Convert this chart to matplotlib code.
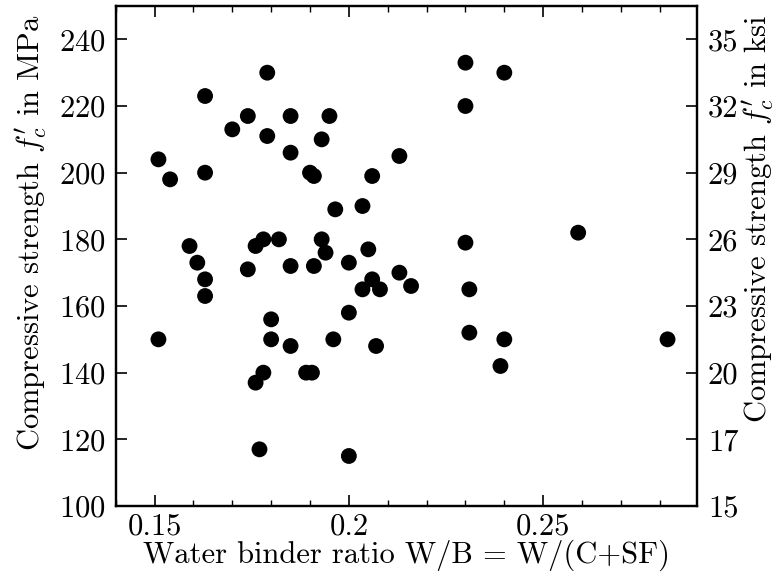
import matplotlib
matplotlib.use("Agg")
import matplotlib.pyplot as plt
from matplotlib.ticker import MultipleLocator, FixedLocator

plt.rcParams['font.family'] = ['cmr10', 'DejaVu Serif']
plt.rcParams['mathtext.fontset'] = 'cm'
plt.rcParams['axes.formatter.use_mathtext'] = True

wb_ratio = [0.151, 0.154, 0.163, 0.163, 0.170, 0.174, 0.179, 0.179, 0.185, 0.185,
            0.195, 0.193, 0.190, 0.191, 0.1965, 0.2035, 0.206, 0.213, 0.159, 0.161,
            0.163, 0.163, 0.176, 0.178, 0.182, 0.174, 0.185, 0.191, 0.193, 0.194,
            0.200, 0.205, 0.2035, 0.206, 0.208, 0.213, 0.216, 0.230, 0.240, 0.230,
            0.259, 0.230, 0.231, 0.231, 0.240, 0.239, 0.282, 0.207, 0.151, 0.180,
            0.180, 0.185, 0.176, 0.178, 0.189, 0.1905, 0.196, 0.200, 0.177, 0.200]
fc_mpa = [204, 198, 223, 200, 213, 217, 230, 211, 217, 206,
          217, 210, 200, 199, 189, 190, 199, 205, 178, 173,
          168, 163, 178, 180, 180, 171, 172, 172, 180, 176,
          173, 177, 165, 168, 165, 170, 166, 233, 230, 220,
          182, 179, 165, 152, 150, 142, 150, 148, 150, 156,
          150, 148, 137, 140, 140, 140, 150, 158, 117, 115]

mpa_ticks = [100, 120, 140, 160, 180, 200, 220, 240]
ksi_labels = ['15', '17', '20', '23', '26', '29', '32', '35']
x_ticks = [0.15, 0.2, 0.25]
x_ticklabels = ['0.15', '0.2', '0.25']

FS = 22

fig = plt.figure(figsize=(7.78, 5.74), dpi=100)
ax = fig.add_axes([0.1487, 0.1185, 0.8955 - 0.1487, 0.9895 - 0.1185])
ax.scatter(wb_ratio, fc_mpa, s=130, color='black', edgecolors='none', zorder=3)

ax.set_xlim(0.14, 0.2895)
ax.set_ylim(100, 250)
ax.xaxis.set_major_locator(FixedLocator(x_ticks))
ax.set_xticklabels(x_ticklabels)
ax.xaxis.set_minor_locator(MultipleLocator(0.01))
ax.yaxis.set_major_locator(FixedLocator(mpa_ticks))
ax.tick_params(axis='x', which='both', direction='in', top=True, bottom=True)
ax.tick_params(axis='y', which='both', direction='in', left=True, right=False)
ax.tick_params(which='major', length=8, width=1.2, labelsize=FS)
ax.tick_params(which='minor', length=4, width=1.0)
ax.tick_params(axis='x', pad=5)
ax.tick_params(axis='y', pad=7)

ax.set_xlabel('Water binder ratio W/B = W/(C+SF)', fontsize=FS)
ax.xaxis.set_label_coords(0.5, -0.068)
ax.set_ylabel(r"Compressive strength $f_c'$ in MPa", fontsize=FS)
ax.yaxis.set_label_coords(-0.113, 0.546)

ax2 = ax.twinx()
ax2.set_ylim(ax.get_ylim())
ax2.yaxis.set_major_locator(FixedLocator(mpa_ticks))
ax2.set_yticklabels(ksi_labels)
ax2.tick_params(axis='y', direction='in', length=8, width=1.2, labelsize=FS, pad=8)
ax2.set_ylabel(r"Compressive strength $f_c'$ in ksi", fontsize=FS)
ax2.yaxis.set_label_coords(1.075, 0.575)

for a in (ax, ax2):
    for sp in a.spines.values():
        sp.set_linewidth(1.6)

fig.savefig('out.png', dpi=100)
